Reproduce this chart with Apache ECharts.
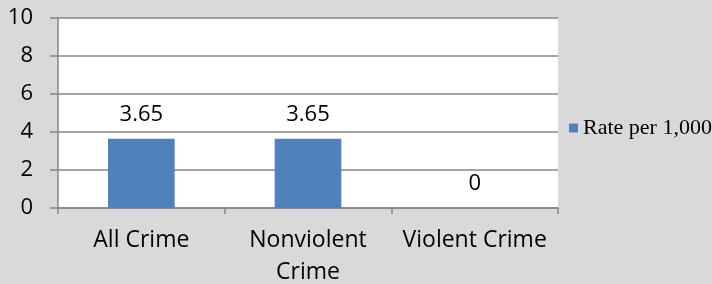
<!DOCTYPE html>
<html><head><meta charset="utf-8">
<script src="https://cdn.jsdelivr.net/npm/echarts@6/dist/echarts.min.js"></script>
<style>html,body{margin:0;padding:0;background:#d9d9d9;}#c{width:712px;height:284px;}</style>
</head><body><div id="c"></div>
<script>
const categories = ['All Crime', 'Nonviolent\nCrime', 'Violent Crime'];
const seriesName = 'Rate per 1,000';
const values = [3.65, 3.65, 0];
const yTicks = {min: 0, max: 10, interval: 2};

const chart = echarts.init(document.getElementById('c'));
const font = '"Open Sans", "Noto Sans", sans-serif';
chart.setOption({
  backgroundColor: '#d9d9d9',
  animation: false,
  grid: {left: 58, right: 154, top: 18, bottom: 76, show: true, backgroundColor: '#ffffff', borderWidth: 0, outerBoundsMode: 'none', containLabel: false},
  legend: {
    data: [seriesName], orient: 'vertical', left: 569, top: 117, padding: 0,
    itemWidth: 9, itemHeight: 9, icon: 'rect',
    textStyle: {fontFamily: '"Liberation Serif", serif', fontSize: 22, color: '#000'}
  },
  xAxis: {
    type: 'category', data: categories, boundaryGap: true,
    axisLine: {lineStyle: {color: '#868686', width: 1.5}},
    axisTick: {show: true, length: 6, lineStyle: {color: '#868686', width: 1.5}},
    axisLabel: {color: '#000', fontFamily: font, fontSize: 23, margin: 16, lineHeight: 32, interval: 0}
  },
  yAxis: {
    type: 'value', min: yTicks.min, max: yTicks.max, interval: yTicks.interval,
    axisLine: {show: true, lineStyle: {color: '#868686', width: 1.5}},
    axisTick: {show: true, length: 8, lineStyle: {color: '#868686', width: 1.5}},
    splitLine: {lineStyle: {color: '#868686', width: 1.5}},
    axisLabel: {color: '#000', fontFamily: font, fontSize: 22, margin: 25}
  },
  series: [{
    name: seriesName, type: 'bar', barWidth: '40%',
    itemStyle: {color: '#4f81bd'},
    data: values,
    label: {show: true, position: 'top', distance: 13, color: '#000', fontFamily: font, fontSize: 22}
  }]
});
</script></body></html>
